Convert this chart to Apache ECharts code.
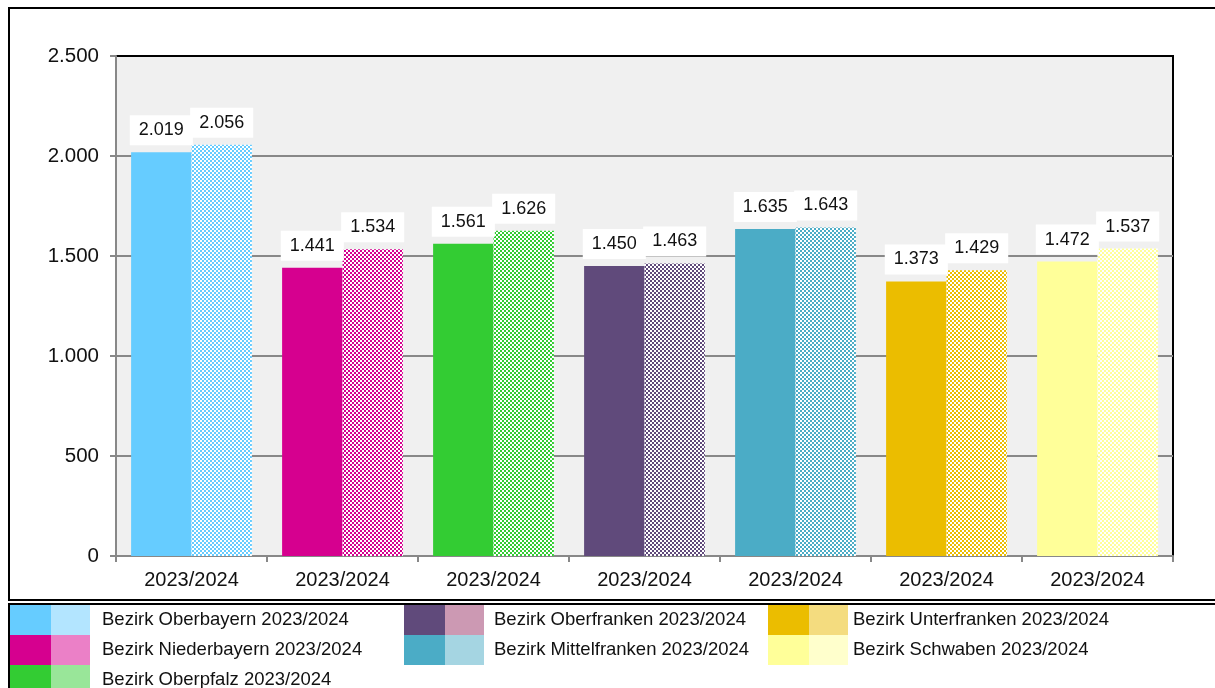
<!DOCTYPE html>
<html>
<head>
<meta charset="utf-8">
<script src="https://cdn.jsdelivr.net/npm/echarts@6/dist/echarts.min.js"></script>
<style>
html,body{margin:0;padding:0;background:#fff;}
#chart{width:1215px;height:688px;}
</style>
</head>
<body>
<div id="chart"></div>
<script>
// ---- data ----
var regions = ['Bezirk Oberbayern', 'Bezirk Niederbayern', 'Bezirk Oberpfalz', 'Bezirk Oberfranken', 'Bezirk Mittelfranken', 'Bezirk Unterfranken', 'Bezirk Schwaben'];
var categories = ['2023/2024', '2023/2024', '2023/2024', '2023/2024', '2023/2024', '2023/2024', '2023/2024'];
var solidValues = [2019, 1441, 1561, 1450, 1635, 1373, 1472];
var patternValues = [2056, 1534, 1626, 1463, 1643, 1429, 1537];
var legendSuffix = '2023/2024';
var solidColors = ['#66CCFF', '#D6008F', '#33CC33', '#604A7B', '#4BACC6', '#EBBD00', '#FFFF99'];
var lightColors = ['#B3E5FF', '#EB80C7', '#99E699', '#CC99B3', '#A5D5E2', '#F4DC7F', '#FFFFCC'];
var yMin = 0, yMax = 2500, yStep = 500;

function fmt(v) {
  return String(Math.round(v)).replace(/\B(?=(\d{3})+(?!\d))/g, '.');
}

var chart = echarts.init(document.getElementById('chart'), null, {renderer: 'canvas'});

var labelStyle = {
  show: true, position: 'top', distance: 7,
  backgroundColor: '#ffffff', padding: [6, 9],
  fontFamily: 'Liberation Sans, Arial, sans-serif', fontSize: 18, color: '#111',
  formatter: function (p) { return fmt(p.value); }
};

var solidData = solidValues.map(function (v, i) {
  return {value: v, itemStyle: {color: solidColors[i]}};
});
var patternData = patternValues.map(function (v, i) {
  return {value: v, itemStyle: {
    color: '#ffffff',
    decal: {symbol: 'rect', symbolSize: 1, color: solidColors[i],
            dashArrayX: [[2, 2], [0, 2, 2, 0]], dashArrayY: [2, 0], rotation: 0}
  }};
});

// legend (two swatches per region): column and row of each entry
var legendColOf = [0, 0, 0, 1, 1, 2, 2];
var legendRowOf = [0, 1, 2, 0, 1, 0, 1];
var legendCols = [{x: 10, tx: 102}, {x: 404, tx: 494}, {x: 768, tx: 853}];
var legendTop = 605, rowH = 30, swW = 41;
var graphics = [
  {type: 'rect', shape: {x: 9, y: 8, width: 1215, height: 592}, style: {fill: 'none', stroke: '#000', lineWidth: 2}, z: 100},
  {type: 'rect', shape: {x: 9, y: 604, width: 1215, height: 100}, style: {fill: 'none', stroke: '#000', lineWidth: 2}, z: 100}
];
regions.forEach(function (name, i) {
  var c = legendCols[legendColOf[i]];
  var y = legendTop + legendRowOf[i] * rowH;
  graphics.push({type: 'rect', shape: {x: c.x, y: y, width: swW, height: rowH}, style: {fill: solidColors[i]}});
  graphics.push({type: 'rect', shape: {x: c.x + swW, y: y, width: swW - 2, height: rowH}, style: {fill: lightColors[i]}});
  graphics.push({type: 'text', x: c.tx, y: y + rowH / 2, style: {
    text: name + ' ' + legendSuffix, fill: '#111', fontSize: 18.5,
    fontFamily: 'Liberation Sans, Arial, sans-serif', verticalAlign: 'middle', align: 'left'}});
});

chart.setOption({
  animation: false,
  backgroundColor: '#ffffff',
  grid: {left: 116, right: 42, top: 56, bottom: 132, show: true,
         backgroundColor: '#F0F0F0', borderColor: '#000', borderWidth: 2},
  xAxis: {
    type: 'category', data: categories,
    axisLine: {lineStyle: {color: '#888', width: 2}},
    axisTick: {show: true, alignWithLabel: false, length: 6, lineStyle: {color: '#888', width: 2}},
    axisLabel: {color: '#111', fontSize: 20, margin: 14, fontFamily: 'Liberation Sans, Arial, sans-serif'}
  },
  yAxis: {
    type: 'value', min: yMin, max: yMax, interval: yStep,
    axisLine: {show: true, lineStyle: {color: '#888', width: 2}},
    axisTick: {show: true, length: 6, lineStyle: {color: '#888', width: 2}},
    axisLabel: {color: '#111', fontSize: 20.5, margin: 17, formatter: fmt, fontFamily: 'Liberation Sans, Arial, sans-serif'},
    splitLine: {show: true, lineStyle: {color: ['#888', '#888', '#888', '#888', '#888', '#000'], width: 2}}
  },
  series: [
    {name: 'Balken 1', type: 'bar', data: solidData, barGap: '0%', barCategoryGap: '20%', label: labelStyle},
    {name: 'Balken 2', type: 'bar', data: patternData, barGap: '0%', barCategoryGap: '20%', label: labelStyle}
  ],
  graphic: graphics
});
</script>
</body>
</html>
